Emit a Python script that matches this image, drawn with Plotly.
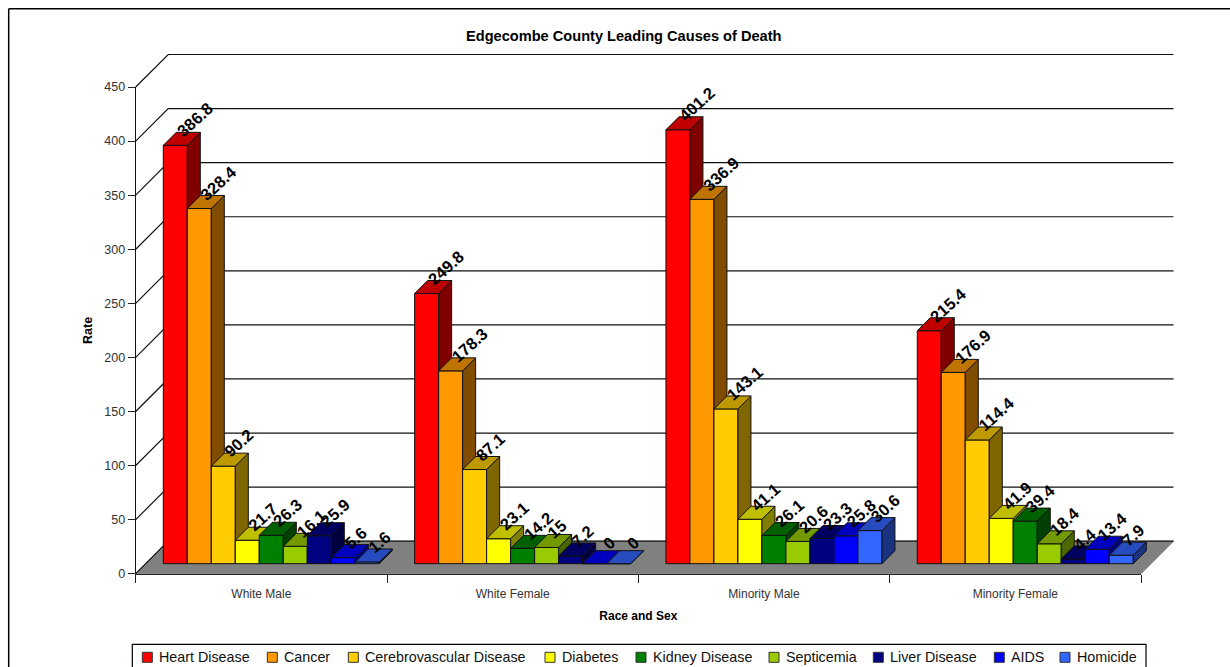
import math
import plotly.graph_objects as go

categories = ["White Male", "White Female", "Minority Male", "Minority Female"]
series_names = ["Heart Disease", "Cancer", "Cerebrovascular Disease", "Diabetes", "Kidney Disease",
                "Septicemia", "Liver Disease", "AIDS", "Homicide"]
heart = [386.8, 249.8, 401.2, 215.4]
cancer = [328.4, 178.3, 336.9, 176.9]
cerebro = [90.2, 87.1, 143.1, 114.4]
diabetes = [21.7, 23.1, 41.1, 41.9]
kidney = [26.3, 14.2, 26.1, 39.4]
septicemia = [16.1, 15, 20.6, 18.4]
liver = [25.9, 7.2, 23.3, 4.4]
aids = [5.6, 0, 25.8, 13.4]
homicide = [1.6, 0, 30.6, 7.9]
all_values = [heart, cancer, cerebro, diabetes, kidney, septicemia, liver, aids, homicide]
colors = ["#FF0000", "#FF9900", "#FFCC00", "#FFFF00", "#008000", "#99CC00", "#000080", "#0000FF", "#3366FF"]
y_ticks = [0, 50, 100, 150, 200, 250, 300, 350, 400, 450]

W, H = 1230, 667
AX_L, AX_R, AX_T, AX_B = 135.7, 1141.0, 87.0, 573.7
PX = (AX_R - AX_L) / 4
PY = (AX_B - AX_T) / 450
DEPTH = 32.5
OFF = 10.0
BAR_D = 13.0
BAR_W = 24.0
GAP = 17.6
LABEL_SIZE = 16.5
LABEL_ANGLE = 42
FONT_REG = "Liberation Sans, Arial, sans-serif"


def dx(px):
    return px / PX


def dy(px):
    return px / PY


def shade(hex_color, f):
    r, g, b = (int(hex_color[i:i + 2], 16) for i in (1, 3, 5))
    return "#%02X%02X%02X" % (round(r * f), round(g * f), round(b * f))


def label_shift(text, v):
    digits = sum(ch.isdigit() for ch in text)
    half = 0.5 * LABEL_SIZE * (0.556 * digits + 0.278 * (len(text) - digits))
    a = math.radians(LABEL_ANGLE)
    sx = 3.5 + half * math.cos(a)
    sy = 12 + half * math.sin(a)
    if v == 0:
        sx += 7
        sy += 6
    return sx, sy


x_full = [(0 - AX_L) / PX, (W - AX_L) / PX]
y_full = [-(H - AX_B) / PY, AX_B / PY]

fig = go.Figure()

# main axes carry the real ticks
fig.add_trace(go.Scatter(x=[0], y=[0], mode="markers", marker=dict(opacity=0), hoverinfo="skip", showlegend=False))

# wall and floor
fig.add_trace(go.Scatter(
    x=[0, 4, 4 + dx(DEPTH), dx(DEPTH), 0], y=[0, 0, dy(DEPTH), dy(DEPTH), 0],
    mode="lines", fill="toself", fillcolor="#808080", line=dict(color="#808080", width=1),
    xaxis="x2", yaxis="y2", hoverinfo="skip", showlegend=False))
gx, gy = [], []
for v in y_ticks:
    gx += [0, dx(DEPTH), 4 + dx(DEPTH), None]
    gy += [v, v + dy(DEPTH), v + dy(DEPTH), None]
fig.add_trace(go.Scatter(x=gx, y=gy, mode="lines", line=dict(color="#111111", width=1.2),
                         xaxis="x2", yaxis="y2", hoverinfo="skip", showlegend=False))

# legend swatches
legend_lefts = [142.3, 267.3, 348.3, 545.0, 636.0, 769.0, 873.3, 994.3, 1060.0]
LEG_Y = 657.3
for name, col, px in zip(series_names, colors, legend_lefts):
    fig.add_trace(go.Scatter(
        x=[(px + 5 - AX_L) / PX], y=[(AX_B - LEG_Y) / PY], mode="markers",
        marker=dict(symbol="square", size=10, color=col, line=dict(color="#333333", width=1)),
        name=name, xaxis="x2", yaxis="y2", hoverinfo="skip", showlegend=False))

annotations = []
for name, px in zip(series_names, legend_lefts):
    annotations.append(dict(text=name, xref="x2", yref="y2", x=(px + 15 - AX_L) / PX, y=(AX_B - LEG_Y) / PY,
                            xanchor="left", yanchor="middle", showarrow=False,
                            font=dict(family=FONT_REG, size=14.3, color="#111111")))

# bars: each series lives on its own stacked subplot so later bars cover earlier side faces
for k, (name, vals, col) in enumerate(zip(series_names, all_values, colors)):
    axn = k + 3
    xa, ya = f"x{axn}", f"y{axn}"
    lefts = [c + dx(OFF + GAP + BAR_W * k) for c in range(4)]
    centers = [l + dx(BAR_W / 2) for l in lefts]
    fig.add_trace(go.Bar(x=centers, y=vals, base=dy(OFF), width=dx(BAR_W), name=name,
                         marker=dict(color=col, line=dict(color="#111111", width=1)),
                         xaxis=xa, yaxis=ya, showlegend=False,
                         hovertemplate=name + ": %{y}<extra></extra>"))
    sx, sy, tx, ty = [], [], [], []
    b = dy(OFF)
    w = dx(BAR_W)
    ddx, ddy = dx(BAR_D), dy(BAR_D)
    for l, v in zip(lefts, vals):
        r = l + w
        sx += [r, r + ddx, r + ddx, r, r, None]
        sy += [b, b + ddy, b + v + ddy, b + v, b, None]
        tx += [l, r, r + ddx, l + ddx, l, None]
        ty += [b + v, b + v, b + v + ddy, b + v + ddy, b + v, None]
    fig.add_trace(go.Scatter(x=sx, y=sy, mode="lines", fill="toself", fillcolor=shade(col, 0.5),
                             line=dict(color="#111111", width=1), xaxis=xa, yaxis=ya,
                             hoverinfo="skip", showlegend=False))
    fig.add_trace(go.Scatter(x=tx, y=ty, mode="lines", fill="toself", fillcolor=shade(col, 0.75),
                             line=dict(color="#111111", width=1), xaxis=xa, yaxis=ya,
                             hoverinfo="skip", showlegend=False))
    for c, v in zip(centers, vals):
        txt = f"{v:g}"
        shx, shy = label_shift(txt, v)
        annotations.append(dict(text=f"<b>{txt}</b>", xref=xa, yref=ya, x=c, y=b + v,
                                xanchor="center", yanchor="middle",
                                xshift=shx, yshift=shy, textangle=-LABEL_ANGLE, showarrow=False,
                                font=dict(family=FONT_REG, size=LABEL_SIZE, color="#000000")))

annotations.append(dict(text="<b>Edgecombe County Leading Causes of Death</b>", xref="paper", yref="paper",
                        x=624 / W, y=1 - 36 / H, xanchor="center", yanchor="middle", showarrow=False,
                        font=dict(family=FONT_REG, size=14.6, color="#000000")))

axes = {}
for n in range(2, 12):
    axes[f"xaxis{n}"] = dict(domain=[0, 1], range=x_full, visible=False, anchor=f"y{n}", fixedrange=True)
    axes[f"yaxis{n}"] = dict(domain=[0, 1], range=y_full, visible=False, anchor=f"x{n}", fixedrange=True)

fig.update_layout(
    width=W, height=H, margin=dict(l=0, r=0, t=0, b=0),
    paper_bgcolor="white", plot_bgcolor="rgba(0,0,0,0)", showlegend=False, barmode="overlay",
    annotations=annotations,
    xaxis=dict(domain=[AX_L / W, AX_R / W], range=[0, 4], anchor="y", fixedrange=True, automargin=False,
               tickmode="array", tickvals=[0.5, 1.5, 2.5, 3.5], ticktext=categories, ticks="",
               tickfont=dict(family=FONT_REG, size=12, color="#333333"), ticklabelstandoff=9,
               minor=dict(tickmode="array", tickvals=[0, 1, 2, 3, 4], ticks="outside", ticklen=8,
                          tickcolor="#222222", tickwidth=1),
               showgrid=False, zeroline=False, showline=True, linecolor="#111111", linewidth=1.2,
               title=dict(text="<b>Race and Sex</b>", standoff=11,
                          font=dict(family=FONT_REG, size=12, color="#000000"))),
    yaxis=dict(domain=[1 - AX_B / H, 1 - AX_T / H], range=[0, 450], anchor="x", fixedrange=True, automargin=False,
               tickmode="array", tickvals=y_ticks, ticks="outside", ticklen=7, tickcolor="#222222", tickwidth=1,
               tickfont=dict(family=FONT_REG, size=12.5, color="#333333"),
               showgrid=False, zeroline=False, showline=True, linecolor="#111111", linewidth=1.2,
               title=dict(text="<b>Rate</b>", standoff=8,
                          font=dict(family=FONT_REG, size=12.5, color="#000000"))),
    shapes=[
        dict(type="line", xref="paper", yref="paper", x0=8.7 / W, x1=1, y0=1 - 8.7 / H, y1=1 - 8.7 / H,
             line=dict(color="#000000", width=1.5)),
        dict(type="line", xref="paper", yref="paper", x0=8.7 / W, x1=8.7 / W, y0=0, y1=1 - 8.7 / H,
             line=dict(color="#000000", width=1.5)),
        dict(type="rect", xref="paper", yref="paper", x0=132.3 / W, x1=1146 / W, y0=-0.02, y1=1 - 644.3 / H,
             line=dict(color="#000000", width=1.2)),
    ],
    **axes,
)

fig.write_html("out.html", config={"displayModeBar": False},
               post_script="document.body.style.margin='0';document.body.style.overflow='hidden';")
